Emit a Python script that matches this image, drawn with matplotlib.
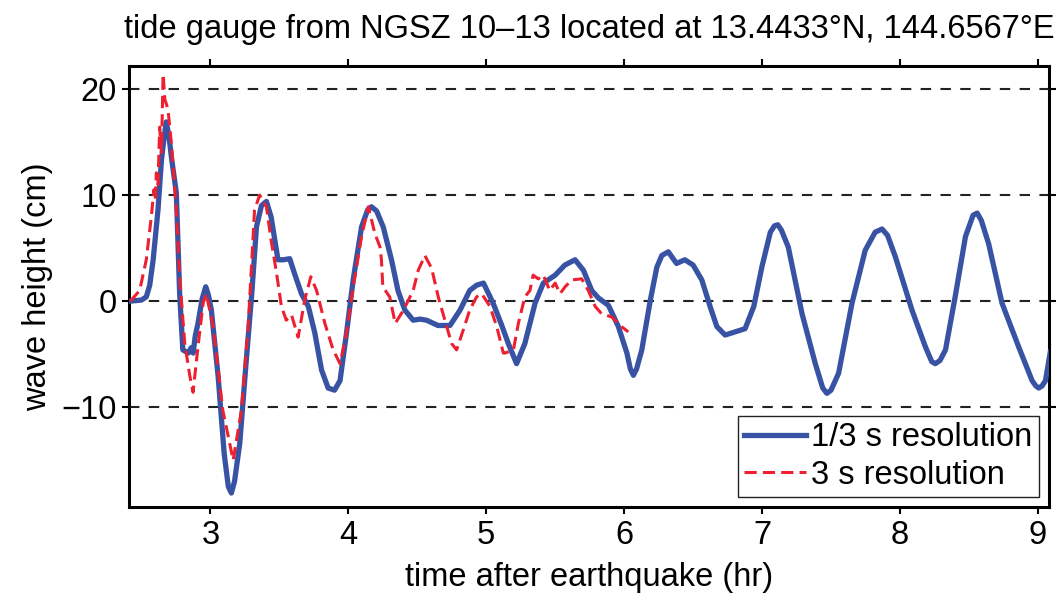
import matplotlib
matplotlib.use('Agg')
import matplotlib.pyplot as plt

plt.rcParams['font.family'] = ['Liberation Sans', 'DejaVu Sans']

# 1/3 s resolution run (hr, cm)
fine_t = [2.42, 2.50, 2.535, 2.56, 2.585, 2.62, 2.645, 2.665, 2.68, 2.70,
          2.717, 2.753, 2.777, 2.80, 2.84, 2.86, 2.875, 2.89, 2.91, 2.94,
          2.966, 2.985, 3.007, 3.056, 3.10, 3.13, 3.152, 3.175, 3.213, 3.26,
          3.30, 3.334, 3.37, 3.406, 3.44, 3.49, 3.53, 3.575, 3.61, 3.66,
          3.71, 3.757, 3.806, 3.854, 3.90, 3.94, 3.987, 4.035, 4.096, 4.14,
          4.168, 4.205, 4.253, 4.313, 4.36, 4.41, 4.47, 4.52, 4.567, 4.65,
          4.737, 4.81, 4.88, 4.93, 4.98, 5.05, 5.11, 5.16, 5.22, 5.28,
          5.354, 5.414, 5.50, 5.57, 5.644, 5.705, 5.765, 5.813, 5.886, 5.958,
          6.02, 6.045, 6.067, 6.09, 6.128, 6.19, 6.237, 6.273, 6.32, 6.38,
          6.44, 6.50, 6.563, 6.623, 6.672, 6.732, 6.805, 6.877, 6.94, 7.0,
          7.06, 7.09, 7.114, 7.14, 7.19, 7.29, 7.386, 7.44, 7.47, 7.50,
          7.555, 7.652, 7.748, 7.82, 7.87, 7.91, 7.966, 8.087, 8.184, 8.23,
          8.256, 8.29, 8.33, 8.40, 8.475, 8.53, 8.56, 8.59, 8.643, 8.74,
          8.86, 8.958, 8.985, 9.006, 9.03, 9.055, 9.09]
fine_h = [0.0, 0.1, 0.4, 1.5, 3.9, 8.6, 13.3, 15.5, 16.9, 15.5,
          13.6, 10.2, 0.7, -4.6, -4.9, -4.4, -4.9, -3.3, -2.1, 0.2,
          1.35, 0.6, -0.85, -7.1, -14.4, -17.5, -18.1, -17.0, -13.4, -5.6,
          0.7, 7.0, 9.0, 9.4, 7.95, 3.9, 3.9, 4.0, 2.6, 0.7,
          -0.5, -3.0, -6.5, -8.2, -8.4, -7.5, -3.0, 2.0, 7.0, 8.6,
          8.9, 8.5, 7.0, 3.9, 1.0, -0.85, -1.8, -1.7, -1.8, -2.3,
          -2.3, -0.85, 1.0, 1.5, 1.7, -0.2, -2.2, -4.0, -5.9, -4.0,
          -0.2, 1.7, 2.45, 3.4, 3.9, 2.9, 1.0, 0.3, -0.4, -2.4,
          -4.9, -6.4, -7.0, -6.4, -4.6, 0.1, 3.2, 4.3, 4.65, 3.55,
          3.9, 3.4, 2.0, -0.5, -2.4, -3.2, -2.9, -2.6, -0.5, 3.3,
          6.5, 7.1, 7.2, 6.7, 5.1, -1.2, -5.9, -8.2, -8.7, -8.4,
          -6.8, -0.2, 4.8, 6.5, 6.8, 6.2, 4.2, -0.85, -4.3, -5.7,
          -5.9, -5.6, -4.6, 0.4, 6.1, 8.1, 8.3, 7.6, 5.4, -0.2,
          -4.3, -7.5, -8.0, -8.2, -8.0, -7.5, -4.8]

# 3 s resolution run (hr, cm)
coarse_t = [2.42, 2.487, 2.535, 2.572, 2.59, 2.60, 2.608, 2.62, 2.632, 2.645,
            2.657, 2.67, 2.683, 2.693, 2.717, 2.753, 2.777, 2.814, 2.85, 2.874,
            2.91, 2.947, 2.97, 3.02, 3.09, 3.165, 3.225, 3.274, 3.32, 3.357,
            3.406, 3.44, 3.48, 3.515, 3.55, 3.588, 3.636, 3.684, 3.728, 3.77,
            3.83, 3.89, 3.94, 3.987, 4.036, 4.096, 4.145, 4.192, 4.23, 4.24,
            4.25, 4.30, 4.34, 4.40, 4.47, 4.507, 4.555, 4.604, 4.652, 4.70,
            4.749, 4.785, 4.834, 4.88, 4.93, 4.967, 5.027, 5.076, 5.124, 5.136,
            5.197, 5.233, 5.28, 5.317, 5.34, 5.377, 5.414, 5.46, 5.50, 5.535,
            5.572, 5.62, 5.692, 5.74, 5.79, 5.837, 5.91, 5.98, 6.03]
coarse_h = [0.0, 1.0, 3.9, 8.0, 10.5, 9.5, 12.1, 11.0, 16.4, 14.0,
            21.4, 19.0, 18.5, 18.0, 14.9, 8.6, 2.3, -4.0, -7.0, -8.6,
            -4.3, -0.2, 0.7, -2.4, -10.3, -15.0, -10.3, -2.4, 8.6, 10.0,
            8.9, 5.75, 2.6, -0.5, -1.8, -1.3, -3.4, 0.1, 2.3, 1.0,
            -2.1, -4.6, -5.9, -3.0, 1.35, 6.1, 8.9, 6.4, 5.1, 3.9,
            1.35, 0.4, -2.1, -0.85, 1.0, 2.9, 4.3, 3.1, 0.4, -1.8,
            -4.0, -4.6, -2.7, -0.85, 0.4, 0.7, -0.5, -2.4, -4.9, -4.9,
            -4.6, -2.1, 0.4, 1.0, 2.45, 2.1, 2.45, 1.0, 1.7, 0.7,
            1.35, 2.0, 2.1, 1.0, -0.5, -1.2, -1.5, -2.4, -2.9]

xticks = [3, 4, 5, 6, 7, 8, 9]
yticks = [-10, 0, 10, 20]

fig = plt.figure(figsize=(10.62, 6.03), dpi=100)
ax = fig.add_axes([0.1215, 0.159, 0.8662, 0.732])

ax.plot(fine_t, fine_h, color='#3853a4', lw=3.8, label='1/3 s resolution',
        solid_joinstyle='round', zorder=3)
ax.plot(coarse_t, coarse_h, color='#ee2030', lw=2.2, ls=(0, (4, 2)),
        label='3 s resolution', zorder=4)

for y in yticks:
    ax.axhline(y, color='#222222', lw=1.5, ls=(0, (5, 4.5)), zorder=1)

ax.set_xlim(2.41, 9.08)
ax.set_ylim(-19.43, 22.2)
ax.set_xticks(xticks)
ax.set_yticks(yticks)
ax.tick_params(direction='out', length=5, width=1.5, labelsize=23.5,
               top=True, right=True, pad=4)
for s in ax.spines.values():
    s.set_linewidth(2.2)

ax.set_xlabel('time after earthquake (hr)', fontsize=23.5, labelpad=8)
ax.set_ylabel('wave height (cm)', fontsize=23.5, labelpad=6)
ax.set_title('tide gauge from NGSZ 10\u201313 located at 13.4433\u00b0N, 144.6567\u00b0E',
             fontsize=23.5, pad=20)

leg = ax.legend(loc='lower right', fontsize=23.5, handlelength=1.9,
                fancybox=False, framealpha=1, borderaxespad=0.3,
                borderpad=0.2, labelspacing=0.2, handletextpad=0.15)
leg.get_frame().set_edgecolor('#222222')
leg.get_frame().set_linewidth(1.0)

fig.savefig('out.png', dpi=100)
